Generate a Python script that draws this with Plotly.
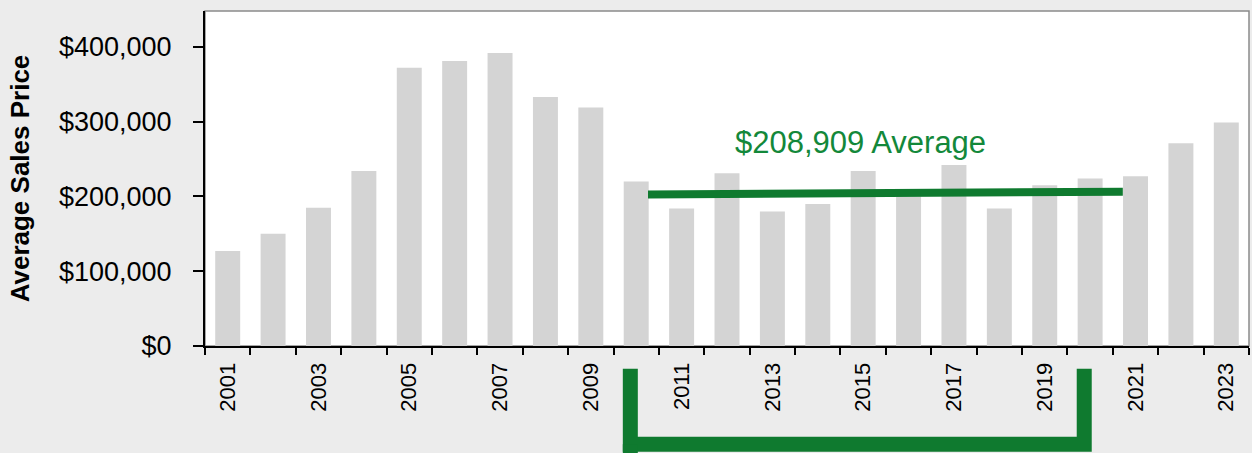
import plotly.graph_objects as go

years = list(range(2001, 2024))
avg_price = [127000, 150000, 185000, 234000, 372000, 381000, 392000, 333000, 319000,
             220000, 184000, 231000, 180000, 190000, 234000, 200000, 242000, 184000,
             215000, 224000, 227000, 271000, 299000]
tick_years = list(range(2001, 2024, 2))
y_ticks = [0, 100000, 200000, 300000, 400000]
y_tick_text = ["$0", "$100,000", "$200,000", "$300,000", "$400,000"]

average_value = 208909
avg_line_x = [2010.26, 2020.72]
avg_line_y = [202700, 206300]
label_text = "$208,909 Average"
bracket_x = [2009.87, 2019.87]

GREEN = "#0f7a2f"
BAR = "#d4d4d4"

fig = go.Figure()
fig.add_trace(go.Bar(x=years, y=avg_price, width=0.55, marker=dict(color=BAR, line=dict(width=0)),
                     showlegend=False))
fig.add_trace(go.Scatter(x=avg_line_x, y=avg_line_y, mode="lines",
                         line=dict(color=GREEN, width=8), showlegend=False))

fig.add_annotation(x=sum(avg_line_x) / 2 - 0.55, y=272000, xref="x", yref="y",
                   text=label_text, showarrow=False,
                   font=dict(family="Liberation Sans, Arial", size=31, color="#13883a"))

# frame
fig.add_shape(type="rect", xref="paper", yref="paper", x0=0, x1=1, y0=0, y1=1,
              line=dict(color="#8a8a8a", width=1.5), layer="below")

# bracket under the axis
by_top, by_bot = -0.068, -0.293
fig.add_shape(type="path", xref="x", yref="paper",
              path=f"M {bracket_x[0]},{by_top} L {bracket_x[0]},{by_bot} L {bracket_x[1]},{by_bot} L {bracket_x[1]},{by_top}",
              line=dict(color=GREEN, width=15))
fig.add_shape(type="line", xref="x", yref="paper", x0=bracket_x[0], x1=bracket_x[0],
              y0=by_bot, y1=-0.33, line=dict(color=GREEN, width=15))

fig.update_layout(
    width=1252, height=453,
    margin=dict(l=205, r=3, t=11, b=107),
    paper_bgcolor="#ececec", plot_bgcolor="white",
    font=dict(family="Liberation Sans, Arial", color="black"),
    bargap=0.45,
)
fig.update_xaxes(
    range=[2000.5, 2023.5], tickmode="array", tickvals=tick_years,
    ticktext=[str(y) for y in tick_years], tickangle=-90,
    ticks="", showgrid=False, zeroline=False,
    showline=True, linecolor="black", linewidth=2,
    tickfont=dict(size=22), ticklabelstandoff=6,
    minor=dict(tickmode="linear", tick0=2000.5, dtick=1, ticks="outside",
               ticklen=7, tickwidth=2, tickcolor="black", showgrid=False),
)
fig.update_yaxes(
    range=[0, 448000], tickmode="array", tickvals=y_ticks, ticktext=y_tick_text,
    ticks="outside", ticklen=10, tickwidth=2,
    tickcolor="black", showgrid=False, zeroline=False,
    showline=True, linecolor="black", linewidth=2,
    tickfont=dict(size=27), ticklabelstandoff=16,
    title=dict(text="<b>Average Sales Price</b>", font=dict(size=26), standoff=22),
)

fig.write_html("out.html")
